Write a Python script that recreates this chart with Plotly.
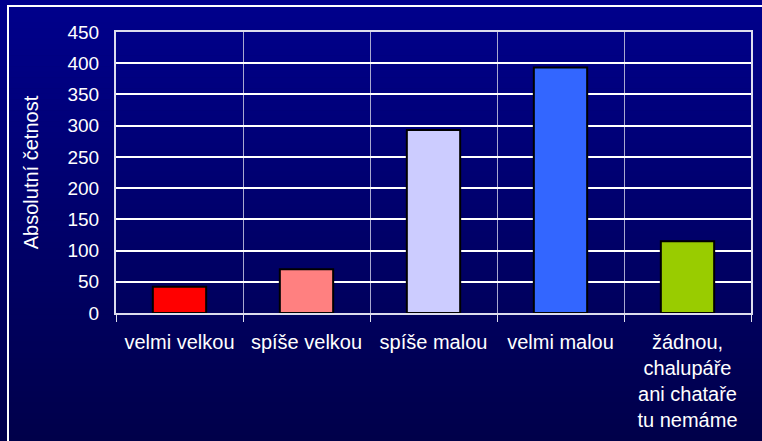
import plotly.graph_objects as go

categories = ["velmi velkou", "spíše velkou", "spíše malou", "velmi malou",
              "žádnou,<br>chalupáře<br>ani chataře<br>tu nemáme"]
values = [42, 70, 293, 393, 115]
bar_colors = ["#FF0000", "#FF8080", "#CCCCFF", "#3366FF", "#99CC00"]
y_ticks = [0, 50, 100, 150, 200, 250, 300, 350, 400, 450]

W, H = 762, 441
ML, MR, MT, MB = 116, 11, 32, 128
PW, PH = W - ML - MR, H - MT - MB

fig = go.Figure(go.Bar(
    x=categories, y=values,
    marker=dict(color=bar_colors, line=dict(color="black", width=2)),
    width=0.42,
))

# gradient background bands
shapes = []
n = 80
top_c = (0, 0, 140)
bot_c = (0, 0, 74)
for i in range(n):
    py0 = i * H / n
    py1 = (i + 1) * H / n + 0.6
    t = (i + 0.5) / n
    c = tuple(round(top_c[k] + (bot_c[k] - top_c[k]) * t) for k in range(3))
    shapes.append(dict(
        type="rect", xref="paper", yref="paper", layer="below",
        x0=-ML / PW, x1=1 + MR / PW,
        y0=1 - (py1 - MT) / PH, y1=1 - (py0 - MT) / PH,
        fillcolor="rgb(%d,%d,%d)" % c, line=dict(width=0),
    ))
# white frame (left and top edges visible)
shapes.append(dict(
    type="line", xref="paper", yref="paper", layer="above",
    x0=(8 - ML) / PW, x1=(8 - ML) / PW,
    y0=1 - (H + 5 - MT) / PH, y1=1 - (6 - MT) / PH,
    line=dict(color="white", width=2),
))
shapes.append(dict(
    type="line", xref="paper", yref="paper", layer="above",
    x0=(7 - ML) / PW, x1=(W + 5 - ML) / PW,
    y0=1 - (6 - MT) / PH, y1=1 - (6 - MT) / PH,
    line=dict(color="white", width=2),
))

font = dict(family="Liberation Sans, Arial, sans-serif", size=20, color="white")

fig.update_layout(
    width=W, height=H,
    margin=dict(l=ML, r=MR, t=MT, b=MB, autoexpand=False),
    paper_bgcolor="rgb(0,0,100)",
    plot_bgcolor="rgba(0,0,0,0)",
    font=font,
    showlegend=False,
    shapes=shapes,
    xaxis=dict(
        tickson="boundaries", ticks="outside", ticklen=7, tickcolor="#DDDDEE",
        tickwidth=1,
        showgrid=True, gridcolor="#A8A8D0", gridwidth=1,
        showline=True, linecolor="#DDDDEE", linewidth=2, mirror=True,
        tickfont=dict(size=20, color="white"),
        ticklabelstandoff=10,
        automargin=False,
        fixedrange=True,
    ),
    yaxis=dict(
        range=[0, 450], tickvals=y_ticks,
        showgrid=True, gridcolor="white", gridwidth=1.5,
        showline=True, linecolor="#DDDDEE", linewidth=2, mirror=True,
        ticks="", tickfont=dict(size=19, color="white"),
        ticklabelstandoff=11,
        zeroline=False,
        automargin=False,
        title=dict(text="Absolutní četnost", font=dict(size=20, color="white"), standoff=23),
        fixedrange=True,
    ),
)

fig.write_html("out.html", config={"displayModeBar": False},
               post_script="document.body.style.margin='0px';document.body.style.overflow='hidden';")
